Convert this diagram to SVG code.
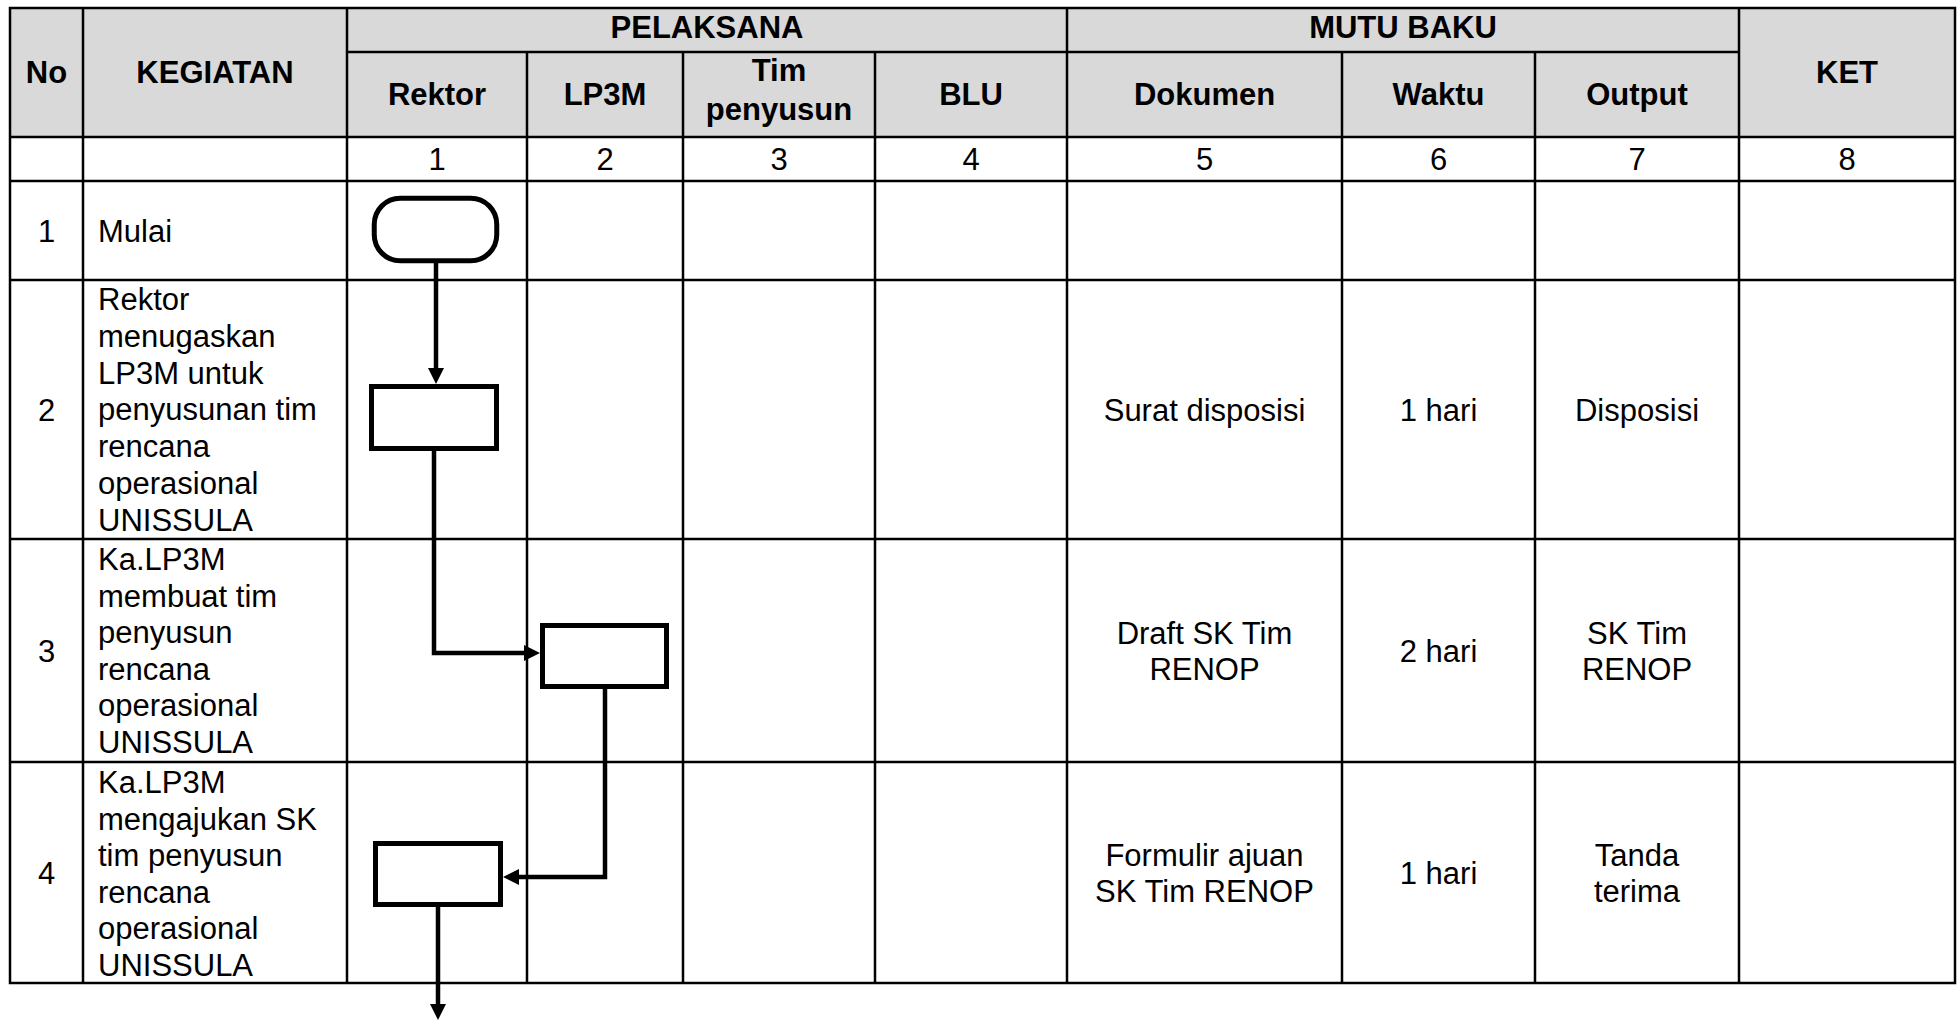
<svg xmlns="http://www.w3.org/2000/svg" width="1959" height="1021" viewBox="0 0 1959 1021">
<style>
text{font-family:"Liberation Sans",Arial,sans-serif;font-size:31px;fill:#000}
.h{font-weight:bold}
.c{text-anchor:middle}
.g{stroke:#000;stroke-width:2.5;fill:none}
.shape{fill:#fff;stroke:#000;stroke-width:5}
.conn{fill:none;stroke:#000;stroke-width:4.5}
</style>
<defs>
<marker id="arr" markerUnits="userSpaceOnUse" markerWidth="17" markerHeight="17" refX="0" refY="8" orient="auto">
<path d="M0,0 L16,8 L0,16 z" fill="#000"/>
</marker>
</defs>
<rect width="1959" height="1021" fill="#fff"/>
<g id="table">
<rect x="10" y="8" width="1945" height="129" fill="#d9d9d9"/>
<rect class="g" x="10" y="8" width="1945" height="975"/>
<path class="g" d="M347,52H1739M10,137H1955M10,181H1955M10,280H1955M10,539H1955M10,762H1955M83,8V983M347,8V983M1067,8V983M1739,8V983M527,52V983M683,52V983M875,52V983M1342,52V983M1535,52V983"/>
<text class="h c" x="707" y="38">PELAKSANA</text>
<text class="h c" x="1403" y="38">MUTU BAKU</text>
<text class="h c" x="46.5" y="83">No</text>
<text class="h c" x="215" y="83">KEGIATAN</text>
<text class="h c" x="1847" y="83">KET</text>
<text class="h c" x="437" y="105">Rektor</text>
<text class="h c" x="605" y="105">LP3M</text>
<text class="h c" x="779" y="81">Tim</text>
<text class="h c" x="779" y="120">penyusun</text>
<text class="h c" x="971" y="105">BLU</text>
<text class="h c" x="1204.5" y="105">Dokumen</text>
<text class="h c" x="1438.5" y="105">Waktu</text>
<text class="h c" x="1637" y="105">Output</text>
<text class="c" x="437" y="170">1</text>
<text class="c" x="605" y="170">2</text>
<text class="c" x="779" y="170">3</text>
<text class="c" x="971" y="170">4</text>
<text class="c" x="1204.5" y="170">5</text>
<text class="c" x="1438.5" y="170">6</text>
<text class="c" x="1637" y="170">7</text>
<text class="c" x="1847" y="170">8</text>
<text class="c" x="46.5" y="242">1</text>
<text x="98" y="242">Mulai</text>
<text class="c" x="46.5" y="421">2</text>
<text x="98" y="310">Rektor<tspan x="98" dy="36.8">menugaskan</tspan><tspan x="98" dy="36.8">LP3M untuk</tspan><tspan x="98" dy="36.8">penyusunan tim</tspan><tspan x="98" dy="36.8">rencana</tspan><tspan x="98" dy="36.8">operasional</tspan><tspan x="98" dy="36.8">UNISSULA</tspan></text>
<text class="c" x="1204.5" y="421">Surat disposisi</text>
<text class="c" x="1438.5" y="421">1 hari</text>
<text class="c" x="1637" y="421">Disposisi</text>
<text class="c" x="46.5" y="662">3</text>
<text x="98" y="570">Ka.LP3M<tspan x="98" dy="36.6">membuat tim</tspan><tspan x="98" dy="36.6">penyusun</tspan><tspan x="98" dy="36.6">rencana</tspan><tspan x="98" dy="36.6">operasional</tspan><tspan x="98" dy="36.6">UNISSULA</tspan></text>
<text class="c" x="1204.5" y="644">Draft SK Tim<tspan x="1204.5" dy="36">RENOP</tspan></text>
<text class="c" x="1438.5" y="662">2 hari</text>
<text class="c" x="1637" y="644">SK Tim<tspan x="1637" dy="36">RENOP</tspan></text>
<text class="c" x="46.5" y="884">4</text>
<text x="98" y="793">Ka.LP3M<tspan x="98" dy="36.6">mengajukan SK</tspan><tspan x="98" dy="36.6">tim penyusun</tspan><tspan x="98" dy="36.6">rencana</tspan><tspan x="98" dy="36.6">operasional</tspan><tspan x="98" dy="36.6">UNISSULA</tspan></text>
<text class="c" x="1204.5" y="866">Formulir ajuan<tspan x="1204.5" dy="36">SK Tim RENOP</tspan></text>
<text class="c" x="1438.5" y="884">1 hari</text>
<text class="c" x="1637" y="866">Tanda<tspan x="1637" dy="36">terima</tspan></text>
</g>
<g id="connectors">
<path class="conn" d="M436,263V368" marker-end="url(#arr)"/>
<path class="conn" d="M434,451V653H524" marker-end="url(#arr)"/>
<path class="conn" d="M605,689V877H519" marker-end="url(#arr)"/>
<path class="conn" d="M438,907V1004" marker-end="url(#arr)"/>
</g>
<g id="start"><rect class="shape" x="374.25" y="198.25" width="122.5" height="62.5" rx="26" ry="26" stroke-width="4.5"/></g>
<g id="step2"><rect class="shape" x="371.5" y="386.5" width="125" height="62"/></g>
<g id="step3"><rect class="shape" x="542.5" y="625.5" width="124" height="61"/></g>
<g id="step4"><rect class="shape" x="375.5" y="843.5" width="125" height="61"/></g>
</svg>
